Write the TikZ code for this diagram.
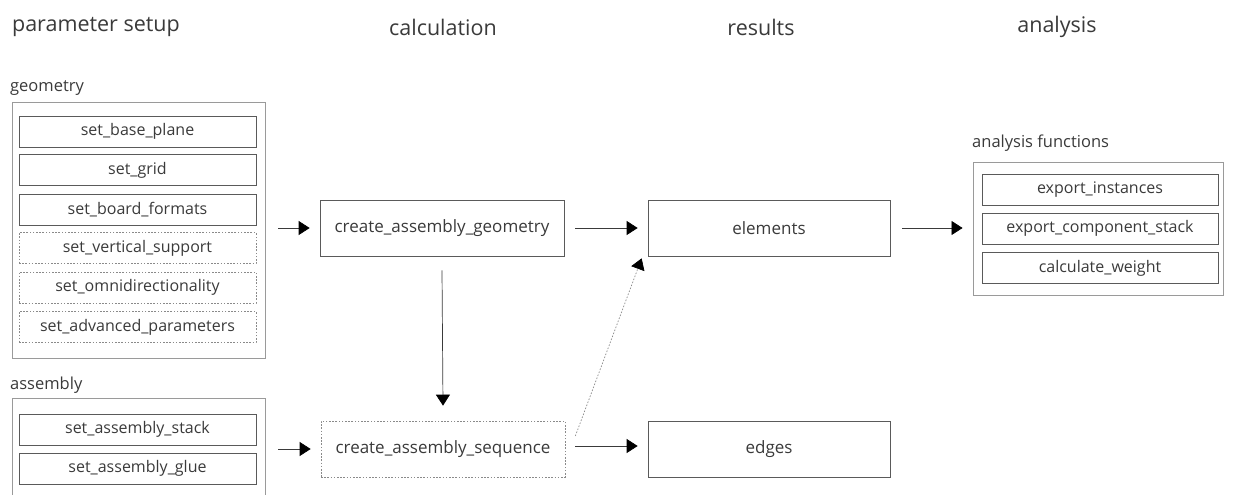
\documentclass[tikz,border=0pt]{standalone}
\usepackage{fontspec}
\setmainfont{Open Sans}
\usetikzlibrary{arrows.meta,calc}
\definecolor{txt}{HTML}{3A3A3A}
\definecolor{outer}{HTML}{9A9A9A}
\definecolor{inner}{HTML}{5A5A5A}
\definecolor{dash}{HTML}{8A8A8A}
\begin{document}
\begin{tikzpicture}[x=1pt,y=-1pt,
  every node/.style={text=txt,inner sep=0pt},
  header/.style={font=\fontsize{21.5}{24}\selectfont},
  grouplabel/.style={font=\fontsize{16.5}{19}\selectfont,anchor=west},
  groupbox/.style={draw=outer,line width=0.9pt},
  fn/.style={draw=inner,line width=0.7pt,minimum width=237pt,minimum height=31pt,
    font=\fontsize{16}{19}\selectfont},
  fndash/.style={fn,draw=dash,dash pattern=on 1.6pt off 1.6pt},
  calcbox/.style={draw=inner,line width=0.7pt,minimum width=244pt,minimum height=56pt,
    font=\fontsize{17}{20}\selectfont},
  calcdash/.style={calcbox,draw=dash,dash pattern=on 1.6pt off 1.6pt},
  resbox/.style={draw=inner,line width=0.7pt,minimum width=242pt,minimum height=56pt,
    font=\fontsize{17}{20}\selectfont},
  arr/.style={draw=txt,line width=0.7pt,-{Triangle[length=11pt,width=14pt,color=black]}},
  arrdash/.style={arr,draw=dash,dash pattern=on 1.6pt off 1.6pt}]
\useasboundingbox (0,0) rectangle (1234,495);

% column headers
\node[header] (h1) at (96,27) {parameter setup};
\node[header] (h2) at (443,27) {calculation};
\node[header] (h3) at (761,27) {results};
\node[header] (h4) at (1057,27) {analysis};

% geometry group
\node[grouplabel] (glab) at (10,88) {geometry};
\node[groupbox,minimum width=253pt,minimum height=256pt] (geo) at (138.5,230) {};
\node[fn] (g1) at (137.5,131.5) {set\_base\_plane};
\node[fn] (g2) at (137.5,170) {set\_grid};
\node[fn] (g3) at (137.5,209.5) {set\_board\_formats};
\node[fndash] (g4) at (137.5,248) {set\_vertical\_support};
\node[fndash] (g5) at (137.5,287.5) {set\_omnidirectionality};
\node[fndash] (g6) at (137.5,327) {set\_advanced\_parameters};

% assembly group (runs past the lower edge)
\node[grouplabel] (alab) at (10,385) {assembly};
\draw[groupbox] (12,510) -- (12,398) coordinate (asmtl) -- (265,398) coordinate (asmtr) -- (265,510);
\node[fn] (a1) at (137.5,429.5) {set\_assembly\_stack};
\node[fn] (a2) at (137.5,468.5) {set\_assembly\_glue};

% calculation
\node[calcbox] (cag) at (442,228) {create\_assembly\_geometry};
\node[calcdash] (cas) at (443,449) {create\_assembly\_sequence};

% results
\node[resbox] (elem) at (769,228) {elements};
\node[resbox] (edges) at (769,449) {edges};

% analysis group
\node[grouplabel] (anlab) at (972,143) {analysis functions};
\node[groupbox,minimum width=250pt,minimum height=133pt] (ana) at (1098,228.5) {};
\node[fn,minimum width=236pt] (f1) at (1100,189.5) {export\_instances};
\node[fn,minimum width=236pt] (f2) at (1100,228.5) {export\_component\_stack};
\node[fn,minimum width=236pt] (f3) at (1100,268) {calculate\_weight};

% connectors
\draw[arr] ($(geo.east|-cag.west)+(13,0)$) -- ([xshift=-10]cag.west);
\draw[arr] ($(asmtr|-cas.west)+(13,0)$) -- ([xshift=-10]cas.west);
\draw[arr] ([xshift=11]cag.east) -- ([xshift=-10]elem.west);
\draw[arr] ([xshift=10,yshift=3]cas.east) -- ([xshift=-10,yshift=3]edges.west);
\draw[arr] ([yshift=-14]cag.south) -- ([yshift=15]cas.north);
\draw[arrdash] ([xshift=10,yshift=13]cas.east) -- ([xshift=-6,yshift=-2]elem.south west);
\draw[arr] ([xshift=12]elem.east) -- ([xshift=-10]ana.west|-elem.east);
\end{tikzpicture}
\end{document}
